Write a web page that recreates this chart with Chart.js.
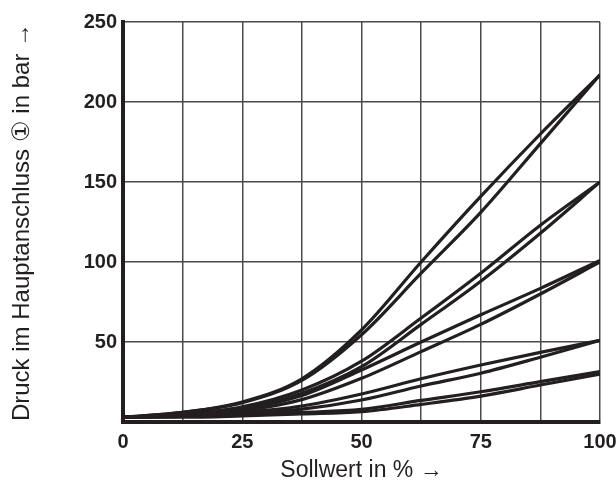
<!DOCTYPE html>
<html>
<head>
<meta charset="utf-8">
<script src="https://cdn.jsdelivr.net/npm/chart.js@4/dist/chart.umd.min.js"></script>
<style>
html,body{margin:0;padding:0;background:#fff;}
#wrap{width:616px;height:492px;}
</style>
</head>
<body>
<div id="wrap"><canvas id="c" width="616" height="492"></canvas></div>
<script>
// Sollwert (x) sample positions in %
const sollwert = [0, 12.5, 25, 37.5, 50, 62.5, 75, 87.5, 100];
// Pressure curves (bar), each pair: rising / falling branch
const p220a = [3, 6, 12.5, 27, 57.5, 100, 141, 180, 217];
const p220b = [3, 6, 12, 26, 54.5, 93, 131, 174, 217];
const p150a = [3, 5, 9.5, 20, 38, 65, 93, 123, 150];
const p150b = [3, 4.5, 8.5, 18, 34.6, 61, 88, 118, 150];
const p100a = [3, 4.5, 8, 16.5, 32.5, 50, 67, 83.5, 101];
const p100b = [3, 4, 7, 14, 27.3, 44, 61, 80, 100];
const p50a = [3, 4, 6, 10, 17.5, 27, 35.6, 43.5, 51];
const p50b = [3, 3.5, 5, 8, 13.75, 22.5, 30.5, 40.5, 51];
const p30a = [3, 3.5, 4.5, 6, 7.9, 13.5, 18.9, 25.2, 31.5];
const p30b = [3, 3, 3.8, 5, 6.4, 11, 16.2, 23.1, 30];
const allSeries = [p220a, p220b, p150a, p150b, p100a, p100b, p50a, p50b, p30a, p30b];
const xTickLabels = [0, 25, 50, 75, 100];
const yTickLabels = [50, 100, 150, 200, 250];

const ink = '#231f20';
const datasets = allSeries.map(s => ({
  data: s.map((v, i) => ({x: sollwert[i], y: v})),
  borderColor: ink,
  borderWidth: 3.2,
  pointRadius: 0,
  fill: false,
  cubicInterpolationMode: 'monotone'
}));

const tickFont = {family: "'Liberation Sans Narrow','Liberation Sans',Arial,sans-serif", size: 20, weight: 'bold'};
const xTitleFont = {family: "'Liberation Sans',Arial,sans-serif", size: 23, weight: 'normal'};
const yTitleFont = {family: "'Liberation Sans',Arial,sans-serif", size: 24, weight: 'normal'};

new Chart(document.getElementById('c'), {
  type: 'line',
  data: {datasets},
  options: {
    responsive: false,
    animation: false,
    events: [],
    layout: {padding: {left: 8, top: 22, right: 16, bottom: 8}},
    plugins: {legend: {display: false}, tooltip: {enabled: false}},
    scales: {
      x: {
        type: 'linear', min: 0, max: 100,
        afterFit: s => { s.height = 62; s.paddingRight = 0; s.paddingLeft = 0; },
        ticks: {
          stepSize: 12.5, autoSkip: false, maxRotation: 0, padding: 8,
          color: ink, font: tickFont,
          callback: v => xTickLabels.includes(v) ? String(v) : ''
        },
        grid: {color: '#4a4a4a', lineWidth: 1.5, drawTicks: false},
        border: {color: ink, width: 4},
        title: {display: true, text: 'Sollwert in % →', color: ink, font: xTitleFont, padding: 0}
      },
      y: {
        type: 'linear', min: 0, max: 250,
        afterFit: s => { s.width = 115; s.paddingTop = 0; },
        ticks: {
          stepSize: 50, padding: 6, color: ink, font: tickFont,
          callback: v => yTickLabels.includes(v) ? String(v) : ''
        },
        grid: {color: '#4a4a4a', lineWidth: 1.5, drawTicks: false},
        border: {color: ink, width: 4},
        title: {display: true, text: 'Druck im Hauptanschluss ① in bar →', color: ink, font: yTitleFont, padding: 0}
      }
    }
  }
});
</script>
</body>
</html>
